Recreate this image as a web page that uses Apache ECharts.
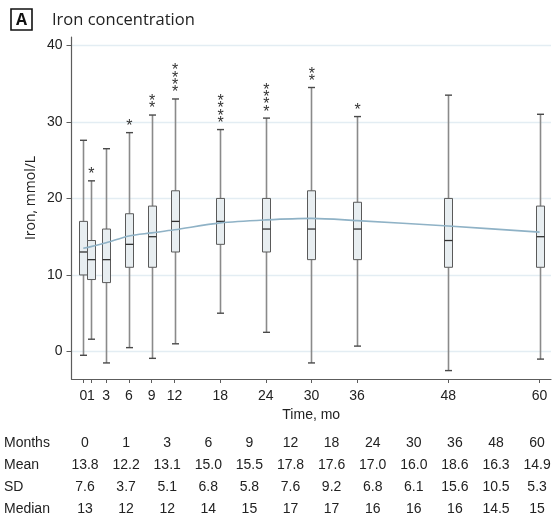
<!DOCTYPE html>
<html>
<head>
<meta charset="utf-8">
<script src="https://cdn.jsdelivr.net/npm/echarts@6/dist/echarts.min.js"></script>
<style>
  html, body { margin: 0; padding: 0; background: #fff; }
  #chart { width: 553px; height: 522px; }
</style>
</head>
<body>
<div id="chart"></div>
<script>
// Follow-up months
const months = [0, 1, 3, 6, 9, 12, 18, 24, 30, 36, 48, 60];
// Box plot statistics per month (iron, mmol/L)
const whiskerLow  = [-0.5, 1.6, -1.5, 0.5, -0.9, 1.0, 5.0, 2.5, -1.5, 0.7, -2.5, -1.0];
const lowerQuart  = [10, 9.4, 9, 11, 11, 13, 14, 13, 12, 12, 11, 11];
const medianVals  = [13, 12, 12, 14, 15, 17, 17, 16, 16, 16, 14.5, 15];
const upperQuart  = [17, 14.5, 16, 18, 19, 21, 20, 20, 21, 19.5, 20, 19];
const whiskerHigh = [27.6, 22.3, 26.5, 28.6, 30.9, 33.0, 29.0, 30.5, 34.5, 30.7, 33.5, 31.0];
// Smoothed trend of iron over time
const trendVals   = [13.5, 13.7, 14.2, 15.1, 15.5, 15.9, 16.8, 17.2, 17.4, 17.1, 16.4, 15.6];
// Significance markers (number of asterisks)
const starCounts  = [0, 1, 0, 1, 2, 4, 4, 4, 2, 1, 0, 0];
// Summary table
const meanVals    = [13.8, 12.2, 13.1, 15.0, 15.5, 17.8, 17.6, 17.0, 16.0, 18.6, 16.3, 14.9];
const sdVals      = [7.6, 3.7, 5.1, 6.8, 5.8, 7.6, 9.2, 6.8, 6.1, 15.6, 10.5, 5.3];
const yTicks      = [0, 10, 20, 30, 40];

const boxData = months.map((m, i) => [m, whiskerLow[i], lowerQuart[i], medianVals[i], upperQuart[i], whiskerHigh[i]]);
const trendData = months.map((m, i) => [m, trendVals[i]]);
const starData = months.map((m, i) => [m, whiskerHigh[i], starCounts[i]]);

const AX_FONT = '"Liberation Sans", Arial, sans-serif';
const UI_FONT = '"Open Sans", "Noto Sans", sans-serif';

function renderBox(params, api) {
  const x = api.value(0);
  const pLo = api.coord([x, api.value(1)]);
  const pQ1 = api.coord([x, api.value(2)]);
  const pMed = api.coord([x, api.value(3)]);
  const pQ3 = api.coord([x, api.value(4)]);
  const pHi = api.coord([x, api.value(5)]);
  const cx = Math.round(pMed[0]) + 0.5;
  const half = 4;
  const cap = 3.5;
  const whisker = { stroke: '#8a8a8a', lineWidth: 1.6 };
  const capStyle = { stroke: '#4a4a4a', lineWidth: 1.4 };
  return {
    type: 'group',
    children: [
      { type: 'line', shape: { x1: cx, y1: pHi[1], x2: cx, y2: pQ3[1] }, style: whisker },
      { type: 'line', shape: { x1: cx, y1: pQ1[1], x2: cx, y2: pLo[1] }, style: whisker },
      { type: 'line', shape: { x1: cx - cap, y1: pHi[1], x2: cx + cap, y2: pHi[1] }, style: capStyle },
      { type: 'line', shape: { x1: cx - cap, y1: pLo[1], x2: cx + cap, y2: pLo[1] }, style: capStyle },
      { type: 'rect', shape: { x: cx - half, y: pQ3[1], width: half * 2, height: pQ1[1] - pQ3[1] },
        style: { fill: '#e8eef1', stroke: '#5a5a5a', lineWidth: 1 } },
      { type: 'line', shape: { x1: cx - half, y1: pMed[1], x2: cx + half, y2: pMed[1] },
        style: { stroke: '#333', lineWidth: 1.3 } }
    ]
  };
}

function renderStars(params, api) {
  const n = api.value(2);
  const p = api.coord([api.value(0), api.value(1)]);
  const children = [];
  for (let k = 0; k < n; k++) {
    children.push({
      type: 'text',
      x: p[0] + 0.5,
      y: p[1] - 6 - k * 7.3,
      style: { text: '*', fontSize: 16, fontFamily: AX_FONT, fill: '#333', align: 'center', verticalAlign: 'middle' }
    });
  }
  return { type: 'group', children };
}

// Summary table under the chart
const rowLabels = ['Months', 'Mean', 'SD', 'Median'];
const rowValues = [
  months.map(String),
  meanVals.map(v => v.toFixed(1)),
  sdVals.map(v => v.toFixed(1)),
  medianVals.map(String)
];
const tableGraphics = [];
const rowY = [443, 465, 487, 509];
rowLabels.forEach((lab, r) => {
  tableGraphics.push({ type: 'text', x: 4, y: rowY[r],
    style: { text: lab, fontSize: 14, fontFamily: AX_FONT, fill: '#222', align: 'left', verticalAlign: 'middle' } });
  rowValues[r].forEach((t, c) => {
    tableGraphics.push({ type: 'text', x: 85 + 41.1 * c, y: rowY[r],
      style: { text: t, fontSize: 14, fontFamily: AX_FONT, fill: '#222', align: 'center', verticalAlign: 'middle' } });
  });
});

const chart = echarts.init(document.getElementById('chart'), null, { renderer: 'canvas' });
chart.setOption({
  backgroundColor: '#fff',
  animation: false,
  grid: { left: 71.5, right: 2, top: 37, bottom: 143, containLabel: false },
  xAxis: {
    type: 'value',
    min: -1.55,
    max: 61.5,
    name: 'Time, mo',
    nameLocation: 'middle',
    nameGap: 24,
    nameTextStyle: { fontSize: 14, fontFamily: AX_FONT, color: '#222' },
    axisLine: { onZero: false, lineStyle: { color: '#5c5c5c', width: 1.2 } },
    axisTick: { show: true, length: 4, customValues: months, lineStyle: { color: '#5c5c5c' } },
    axisLabel: { customValues: months, fontSize: 14, fontFamily: AX_FONT, color: '#222', margin: 10 },
    splitLine: { show: false }
  },
  yAxis: {
    type: 'value',
    min: -3.6,
    max: 41.1,
    axisLine: { show: true, onZero: false, lineStyle: { color: '#5c5c5c', width: 1.2 } },
    axisTick: { show: true, length: 5, customValues: yTicks, lineStyle: { color: '#5c5c5c' } },
    axisLabel: { customValues: yTicks, fontSize: 14, fontFamily: AX_FONT, color: '#222', margin: 9 },
    splitLine: { show: true, lineStyle: { color: '#e3edf3', width: 1.3 } }
  },
  series: [
    {
      type: 'custom',
      renderItem: renderBox,
      data: boxData,
      encode: { x: 0, y: [1, 2, 3, 4, 5] },
      z: 2
    },
    {
      type: 'line',
      data: trendData,
      smooth: 0.3,
      symbol: 'none',
      lineStyle: { color: '#8fb2c6', width: 1.6 },
      z: 3
    },
    {
      type: 'custom',
      renderItem: renderStars,
      data: starData,
      encode: { x: 0, y: 1 },
      z: 4
    }
  ],
  graphic: [
    { type: 'rect', shape: { x: 11, y: 9, width: 21, height: 21 },
      style: { fill: 'none', stroke: '#111', lineWidth: 1.6 } },
    { type: 'text', x: 21.5, y: 20, style: { text: 'A', fontSize: 16, fontWeight: 'bold', fontFamily: UI_FONT,
      fill: '#111', align: 'center', verticalAlign: 'middle' } },
    { type: 'text', x: 52, y: 20, style: { text: 'Iron concentration', fontSize: 16.5, fontFamily: UI_FONT,
      fill: '#222', align: 'left', verticalAlign: 'middle' } },
    { type: 'text', x: 31, y: 198, rotation: Math.PI / 2,
      style: { text: 'Iron, mmol/L', fontSize: 14, fontFamily: UI_FONT, fill: '#222', align: 'center', verticalAlign: 'middle' } }
  ].concat(tableGraphics)
});
</script>
</body>
</html>
